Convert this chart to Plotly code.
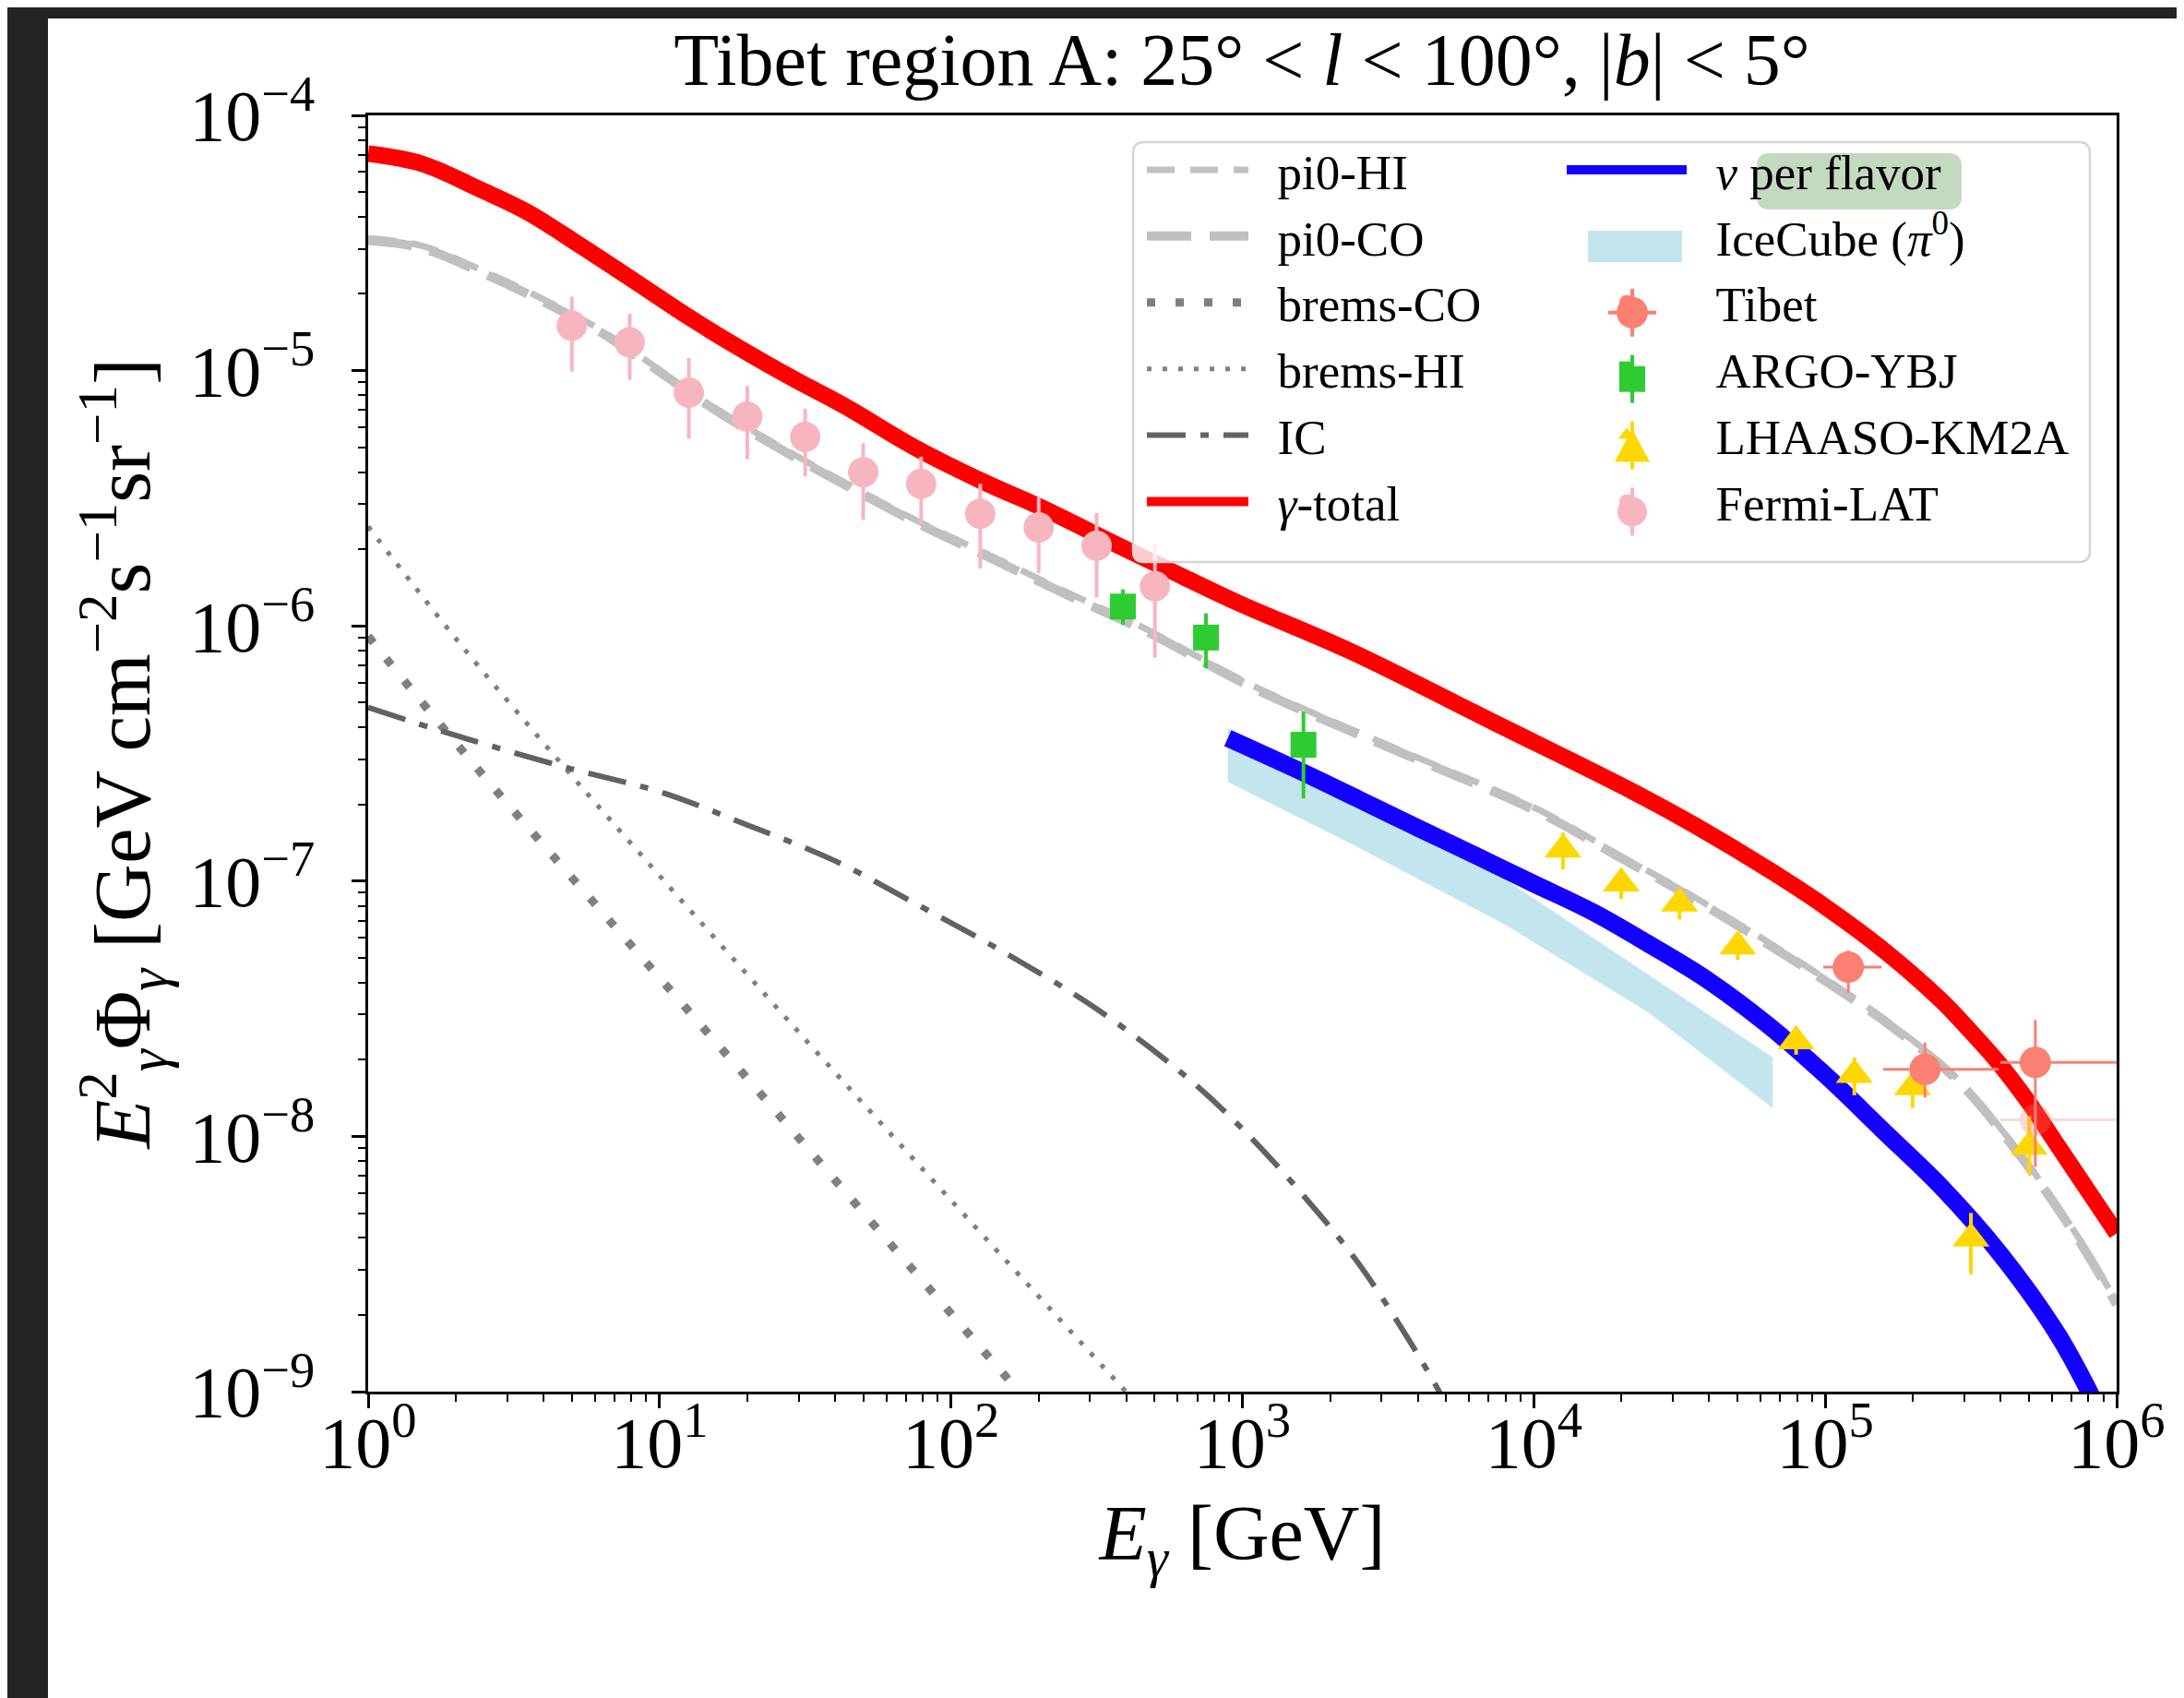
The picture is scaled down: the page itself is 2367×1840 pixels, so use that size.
import plotly.graph_objects as go

# ---------------- data ----------------
total_E = [1.0, 1.53, 2.42, 3.53, 5.35, 8.47, 12.4, 18.7, 28.6, 43.4, 74.8, 129, 212, 352, 631, 968,
           2355, 7194, 21930, 35480, 63100, 1.0e5, 1.585e5, 2.512e5, 3.162e5, 3.981e5, 5.012e5,
           6.31e5, 7.943e5, 1.0e6]
total_F = [7.08e-5, 6.46e-5, 5.13e-5, 4.17e-5, 3.09e-5, 2.19e-5, 1.64e-5, 1.23e-5, 9.33e-6, 7.24e-6,
           5.01e-6, 3.67e-6, 2.85e-6, 2.14e-6, 1.55e-6, 1.23e-6, 7.94e-7, 4.22e-7, 2.24e-7, 1.66e-7,
           1.12e-7, 7.94e-8, 5.37e-8, 3.39e-8, 2.57e-8, 1.91e-8, 1.35e-8, 9.12e-9, 6.17e-9, 4.17e-9]

pi0_E = [1.0, 1.53, 2.62, 4.0, 6.3, 9.6, 15.8, 26.2, 45.3, 77.6, 140, 262, 447, 1122, 3388, 10420,
         19950, 34200, 90780, 173800, 283100, 462400, 753400, 1.0e6]
pi0_CO_F = [3.24e-5, 3.02e-5, 2.34e-5, 1.86e-5, 1.41e-5, 1.02e-5, 6.92e-6, 4.90e-6, 3.47e-6, 2.51e-6,
            1.82e-6, 1.29e-6, 9.77e-7, 5.62e-7, 3.24e-7, 1.86e-7, 1.23e-7, 8.71e-8, 4.37e-8, 2.63e-8,
            1.66e-8, 8.51e-9, 3.80e-9, 2.19e-9]
pi0_HI_F = [3.30e-5, 3.08e-5, 2.39e-5, 1.90e-5, 1.44e-5, 1.04e-5, 7.05e-6, 5.0e-6, 3.54e-6, 2.56e-6,
            1.86e-6, 1.32e-6, 9.97e-7, 5.73e-7, 3.30e-7, 1.90e-7, 1.25e-7, 8.88e-8, 4.46e-8, 2.68e-8,
            1.69e-8, 8.68e-9, 3.88e-9, 2.23e-9]

bremsCO_E = [1.0, 1.41, 2.63, 6.92, 18.2, 50.1, 178]
bremsCO_F = [9.12e-7, 5.62e-7, 2.40e-7, 6.76e-8, 1.91e-8, 5.01e-9, 9.5e-10]

bremsHI_E = [1.0, 2.0, 4.68, 10, 31.6, 100, 398]
bremsHI_F = [2.45e-6, 8.91e-7, 2.82e-7, 1.05e-7, 2.40e-8, 5.62e-9, 1.0e-9]

IC_E = [1.0, 2.0, 5.0, 10, 20, 40, 79, 158, 316, 631, 1000, 1585, 2512, 3981, 5012]
IC_F = [4.79e-7, 3.72e-7, 2.75e-7, 2.24e-7, 1.66e-7, 1.20e-7, 7.94e-8, 5.13e-8, 3.16e-8, 1.74e-8,
        1.07e-8, 6.03e-9, 3.16e-9, 1.41e-9, 8.9e-10]

nu_E = [891, 1585, 2512, 3981, 6310, 1.0e4, 1.585e4, 2.512e4, 3.981e4, 6.31e4, 1.0e5, 1.585e5,
        2.512e5, 3.981e5, 6.31e5, 8.913e5]
nu_F = [3.63e-7, 2.69e-7, 2.09e-7, 1.62e-7, 1.26e-7, 9.77e-8, 7.59e-8, 5.62e-8, 4.07e-8, 2.75e-8,
        1.74e-8, 1.05e-8, 6.31e-9, 3.47e-9, 1.66e-9, 7.94e-10]

icecube_E = [891, 2512, 7943, 2.512e4, 6.607e4]
icecube_hi = [3.98e-7, 2.19e-7, 1.02e-7, 4.27e-8, 2.04e-8]
icecube_lo = [2.45e-7, 1.35e-7, 6.76e-8, 3.02e-8, 1.29e-8]

fermi_E = [5.0, 7.9, 12.6, 20, 31.6, 50, 79, 126, 200, 316, 501]
fermi_F = [1.50e-5, 1.29e-5, 8.2e-6, 6.6e-6, 5.5e-6, 4.0e-6, 3.6e-6, 2.75e-6, 2.43e-6, 2.06e-6, 1.43e-6]
fermi_up = [1.95e-5, 1.67e-5, 1.12e-5, 8.7e-6, 7.1e-6, 5.2e-6, 4.6e-6, 3.6e-6, 3.2e-6, 2.77e-6, 2.09e-6]
fermi_dn = [9.9e-6, 9.2e-6, 5.4e-6, 4.5e-6, 3.85e-6, 2.6e-6, 2.5e-6, 1.68e-6, 1.61e-6, 1.29e-6, 7.5e-7]

argo_E = [389, 750, 1620]
argo_F = [1.19e-6, 9.0e-7, 3.42e-7]
argo_up = [1.39e-6, 1.12e-6, 4.61e-7]
argo_dn = [1.01e-6, 6.82e-7, 2.11e-7]

lhaaso_E = [12590, 19950, 31620, 50120, 79430, 125900, 199500, 316200, 501200]
lhaaso_F = [1.33e-7, 9.8e-8, 8.17e-8, 5.55e-8, 2.36e-8, 1.74e-8, 1.56e-8, 3.98e-9, 9.12e-9]
lhaaso_up = [1.55e-7, 1.12e-7, 9.33e-8, 6.31e-8, 2.69e-8, 2.04e-8, 1.82e-8, 5.01e-9, 1.20e-8]
lhaaso_dn = [1.11e-7, 8.51e-8, 7.08e-8, 4.90e-8, 2.09e-8, 1.45e-8, 1.29e-8, 2.88e-9, 7.08e-9]

tibet_E = [1.2e5, 2.2e5, 5.26e5]
tibet_Elo = [9.84e4, 1.58e5, 3.99e5]
tibet_Ehi = [1.56e5, 3.94e5, 1.6e6]
tibet_F = [4.6e-8, 1.83e-8, 1.95e-8]
tibet_up = [5.35e-8, 2.33e-8, 2.86e-8]
tibet_dn = [3.65e-8, 1.42e-8, 7.6e-9]

tibet_faint_E = [5.26e5]
tibet_faint_Elo = [3.99e5]
tibet_faint_Ehi = [1.6e6]
tibet_faint_F = [1.16e-8]

x_tick_vals = [1, 10, 100, 1e3, 1e4, 1e5, 1e6]
x_tick_text = ["10<sup>0</sup>", "10<sup>1</sup>", "10<sup>2</sup>", "10<sup>3</sup>",
               "10<sup>4</sup>", "10<sup>5</sup>", "10<sup>6</sup>"]
y_tick_vals = [1e-9, 1e-8, 1e-7, 1e-6, 1e-5, 1e-4]
y_tick_text = ["10<sup>−9</sup>", "10<sup>−8</sup>", "10<sup>−7</sup>", "10<sup>−6</sup>",
               "10<sup>−5</sup>", "10<sup>−4</sup>"]

# ---------------- layout constants ----------------
W, H = 2367, 1840
ML, MR, MT, MB = 391, 81, 117, 340
PW, PH = W - ML - MR, H - MT - MB
FONT = "Liberation Serif, Times New Roman, serif"

C_TIBET, C_ARGO, C_LHAASO, C_FERMI = "#FA8072", "#2ECC32", "#FFD700", "#F7B6BF"
C_ICE = "#C3E6EE"


def px_x(px):
    return (px - ML) / PW


def px_y(py):
    return 1 - (py - MT) / PH


def rrect_path(x0, y0, x1, y1, r):
    pts = [("M", x0 + r, y0), ("L", x1 - r, y0), ("Q", x1, y0, x1, y0 + r), ("L", x1, y1 - r),
           ("Q", x1, y1, x1 - r, y1), ("L", x0 + r, y1), ("Q", x0, y1, x0, y1 - r),
           ("L", x0, y0 + r), ("Q", x0, y0, x0 + r, y0)]
    out = []
    for p in pts:
        cmd, vals = p[0], p[1:]
        coords = []
        for i in range(0, len(vals), 2):
            coords.append(f"{px_x(vals[i]):.5f},{px_y(vals[i + 1]):.5f}")
        out.append(cmd + " ".join(coords))
    return " ".join(out) + " Z"


def errs(center, up, dn):
    return [u - c for u, c in zip(up, center)], [c - d for c, d in zip(center, dn)]


def handle(kind, cx, cy, color, **kw):
    """Legend handle decoration (pixel-sized shape anchored at a pixel position)."""
    base = dict(xref="paper", yref="paper", xsizemode="pixel", ysizemode="pixel",
                xanchor=px_x(cx), yanchor=px_y(cy), layer="above")
    if kind == "circle":
        r = kw["r"]
        return dict(type="circle", x0=-r, x1=r, y0=-r, y1=r, fillcolor=color,
                    line=dict(width=0), **base)
    if kind == "square":
        r = kw["r"]
        return dict(type="rect", x0=-r, x1=r, y0=-r, y1=r, fillcolor=color,
                    line=dict(width=0), **base)
    if kind == "triangle":
        w, h = kw["w"], kw["h"]
        return dict(type="path", path=f"M{-w},{-h} L{w},{-h} L0,{h} Z", fillcolor=color,
                    line=dict(width=0), **base)
    if kind == "vbar":
        h = kw["h"]
        return dict(type="line", x0=0, x1=0, y0=-h, y1=h, line=dict(color=color, width=kw["lw"]), **base)
    if kind == "hbar":
        w = kw["w"]
        return dict(type="line", x0=-w, x1=w, y0=0, y1=0, line=dict(color=color, width=kw["lw"]), **base)
    if kind == "patch":
        w, h = kw["w"], kw["h"]
        return dict(type="rect", x0=-w, x1=w, y0=-h, y1=h, fillcolor=color,
                    line=dict(width=0), **base)


fig = go.Figure()

# ---- model curves ----
fig.add_trace(go.Scatter(x=bremsHI_E, y=bremsHI_F, mode="lines", name="brems-HI",
                         line=dict(color="#808080", width=5, dash="5px,12px", shape="spline"),
                         legend="legend", legendrank=4))
fig.add_trace(go.Scatter(x=bremsCO_E, y=bremsCO_F, mode="lines", name="brems-CO",
                         line=dict(color="#808080", width=9, dash="9px,22px", shape="spline"),
                         legend="legend", legendrank=3))
fig.add_trace(go.Scatter(x=IC_E, y=IC_F, mode="lines", name="IC",
                         line=dict(color="#626262", width=6, dash="42px,16px,9px,16px", shape="spline"),
                         legend="legend", legendrank=5))
fig.add_trace(go.Scatter(x=icecube_E + icecube_E[::-1], y=icecube_hi + icecube_lo[::-1],
                         mode="lines", fill="toself", fillcolor=C_ICE, line=dict(width=0, color=C_ICE),
                         name="IceCube (<i>π</i><sup>0</sup>)", showlegend=False))
# legend entry of the IceCube band (its patch is drawn as a legend handle shape)
fig.add_trace(go.Scatter(x=[None], y=[None], mode="lines", line=dict(width=0, color="rgba(0,0,0,0)"),
                         name="IceCube (<i>π</i><sup>0</sup>)", legend="legend2", legendrank=2))
fig.add_trace(go.Scatter(x=pi0_E, y=pi0_HI_F, mode="lines", name="pi0-HI",
                         line=dict(color="#C0C0C0", width=7, dash="30px,17px", shape="spline"),
                         legend="legend", legendrank=1))
fig.add_trace(go.Scatter(x=pi0_E, y=pi0_CO_F, mode="lines", name="pi0-CO",
                         line=dict(color="#C0C0C0", width=10, dash="48px,20px", shape="spline"),
                         legend="legend", legendrank=2))
fig.add_trace(go.Scatter(x=nu_E, y=nu_F, mode="lines", name="<i>ν</i>\u00a0per flavor",
                         line=dict(color="#1400FF", width=19, shape="spline"),
                         legend="legend2", legendrank=1))
fig.add_trace(go.Scatter(x=total_E, y=total_F, mode="lines", name="<i>γ</i>-total",
                         line=dict(color="#FF0000", width=18, shape="spline"),
                         legend="legend", legendrank=6))

# ---- data points ----
fe_u, fe_d = errs(fermi_F, fermi_up, fermi_dn)
fig.add_trace(go.Scatter(x=fermi_E, y=fermi_F, mode="markers", name="Fermi-LAT",
                         marker=dict(symbol="circle", size=33, color=C_FERMI),
                         error_y=dict(type="data", symmetric=False, array=fe_u, arrayminus=fe_d,
                                      color=C_FERMI, thickness=4, width=0),
                         legend="legend2", legendrank=6))
ar_u, ar_d = errs(argo_F, argo_up, argo_dn)
fig.add_trace(go.Scatter(x=argo_E, y=argo_F, mode="markers", name="ARGO-YBJ",
                         marker=dict(symbol="square", size=28, color=C_ARGO),
                         error_y=dict(type="data", symmetric=False, array=ar_u, arrayminus=ar_d,
                                      color=C_ARGO, thickness=4, width=0),
                         legend="legend2", legendrank=4))
lh_u, lh_d = errs(lhaaso_F, lhaaso_up, lhaaso_dn)
fig.add_trace(go.Scatter(x=lhaaso_E, y=lhaaso_F, mode="markers", name="LHAASO-KM2A",
                         marker=dict(symbol="triangle-up", size=35, color=C_LHAASO),
                         error_y=dict(type="data", symmetric=False, array=lh_u, arrayminus=lh_d,
                                      color=C_LHAASO, thickness=4, width=0),
                         legend="legend2", legendrank=5))
tf_u, tf_d = errs(tibet_faint_E, tibet_faint_Ehi, tibet_faint_Elo)
fig.add_trace(go.Scatter(x=tibet_faint_E, y=tibet_faint_F, mode="markers", showlegend=False,
                         opacity=0.3, marker=dict(symbol="circle", size=34, color=C_TIBET),
                         error_x=dict(type="data", symmetric=False, array=tf_u, arrayminus=tf_d,
                                      color=C_TIBET, thickness=3, width=0)))
te_u, te_d = errs(tibet_E, tibet_Ehi, tibet_Elo)
tf_yu, tf_yd = errs(tibet_F, tibet_up, tibet_dn)
fig.add_trace(go.Scatter(x=tibet_E, y=tibet_F, mode="markers", name="Tibet",
                         marker=dict(symbol="circle", size=34, color=C_TIBET),
                         error_x=dict(type="data", symmetric=False, array=te_u, arrayminus=te_d,
                                      color=C_TIBET, thickness=3, width=0),
                         error_y=dict(type="data", symmetric=False, array=tf_yu, arrayminus=tf_yd,
                                      color=C_TIBET, thickness=3, width=0),
                         legend="legend2", legendrank=3))

# legend text padding (non-breaking spaces) to mimic matplotlib handle/label gap
for tr in fig.data:
    if tr.showlegend is False:
        continue
    tr.name = "\u00a0\u00a0" + tr.name

minor_x = [m * 10 ** k for k in range(0, 6) for m in range(2, 10)]
minor_y = [m * 10.0 ** k for k in range(-9, -4) for m in range(2, 10)]

axis_common = dict(type="log", showgrid=False, zeroline=False, showline=True, linecolor="black",
                   linewidth=3, mirror=True, ticks="outside", ticklen=15, tickwidth=2.5,
                   tickcolor="black", tickfont=dict(family=FONT, size=78, color="black"))

# legend layout (pixel positions)
LEG_TOP = 135
ROW0, ROW_H = 187, 71.9
COL2_X = 1761
rows = [ROW0 + k * ROW_H for k in range(6)]

legend_handles = [
    handle("patch", 1764, rows[1], C_ICE, w=51, h=17),
    handle("vbar", COL2_X, rows[2], C_TIBET, h=26, lw=4),
    handle("hbar", COL2_X, rows[2], C_TIBET, w=26, lw=4),
    handle("circle", COL2_X, rows[2], C_TIBET, r=17),
    handle("vbar", COL2_X, rows[3], C_ARGO, h=26, lw=4),
    handle("square", COL2_X, rows[3], C_ARGO, r=14),
    handle("vbar", COL2_X, rows[4], C_LHAASO, h=26, lw=4),
    handle("triangle", COL2_X, rows[4], C_LHAASO, w=19, h=18),
    handle("vbar", COL2_X, rows[5], C_FERMI, h=26, lw=4),
    handle("circle", COL2_X, rows[5], C_FERMI, r=16),
]

fig.update_layout(
    width=W, height=H,
    margin=dict(l=ML, r=MR, t=MT, b=MB, autoexpand=False),
    paper_bgcolor="white", plot_bgcolor="white",
    font=dict(family=FONT, color="black"),
    title=dict(text="Tibet region A: 25° &lt; <i>l</i> &lt; 100°, |<i>b</i>| &lt; 5°",
               x=px_x(1338), xref="paper", xanchor="center",
               y=1 - 56 / H, yref="container", yanchor="middle",
               font=dict(family=FONT, size=80, color="black")),
    xaxis=dict(**axis_common, range=[0, 6], tickvals=x_tick_vals, ticktext=x_tick_text,
               ticklabelstandoff=-30,
               minor=dict(tickvals=minor_x, ticks="outside", ticklen=8, tickwidth=2,
                          tickcolor="black", showgrid=False),
               title=dict(text="<i>E</i><sub><i>γ</i></sub> [GeV]",
                          font=dict(family=FONT, size=84, color="black"), standoff=26)),
    yaxis=dict(**axis_common, range=[-9, -4], tickvals=y_tick_vals, ticktext=y_tick_text,
               ticklabelstandoff=24,
               minor=dict(tickvals=minor_y, ticks="outside", ticklen=8, tickwidth=2,
                          tickcolor="black", showgrid=False),
               title=dict(text="<i>E</i><sup>2</sup><sub><i>γ</i></sub>Φ<sub><i>γ</i></sub> "
                               "[GeV cm<sup>−2</sup>s<sup>−1</sup>sr<sup>−1</sup>]",
                          font=dict(family=FONT, size=87, color="black"), standoff=14)),
    showlegend=True,
    legend=dict(x=px_x(1230), y=px_y(LEG_TOP), xanchor="left", yanchor="top",
                bgcolor="rgba(0,0,0,0)", borderwidth=0, itemwidth=110, tracegroupgap=0,
                traceorder="normal", font=dict(family=FONT, size=53, color="black")),
    legend2=dict(x=px_x(1685), y=px_y(LEG_TOP), xanchor="left", yanchor="top",
                 bgcolor="rgba(0,0,0,0)", borderwidth=0, itemwidth=130, tracegroupgap=0,
                 traceorder="normal", font=dict(family=FONT, size=53, color="black")),
    shapes=[
        # dark screenshot border (top and left)
        dict(type="rect", xref="paper", yref="paper", x0=px_x(0), x1=px_x(W), y0=px_y(0),
             y1=px_y(12), fillcolor="#232323", line=dict(width=0), layer="above"),
        dict(type="rect", xref="paper", yref="paper", x0=px_x(0), x1=px_x(44), y0=px_y(0),
             y1=px_y(H), fillcolor="#232323", line=dict(width=0), layer="above"),
        # legend frame
        dict(type="path", xref="paper", yref="paper", path=rrect_path(1220, 146, 2257, 601, 12),
             fillcolor="rgba(255,255,255,0.8)", line=dict(color="#D4D4D4", width=2.5),
             layer="above"),
        # highlight behind "per flavor"
        dict(type="path", xref="paper", yref="paper", path=rrect_path(1896, 158, 2118, 219, 14),
             fillcolor="#C4DAC0", line=dict(width=0), layer="above"),
    ] + legend_handles,
)

fig.write_html("out.html")
